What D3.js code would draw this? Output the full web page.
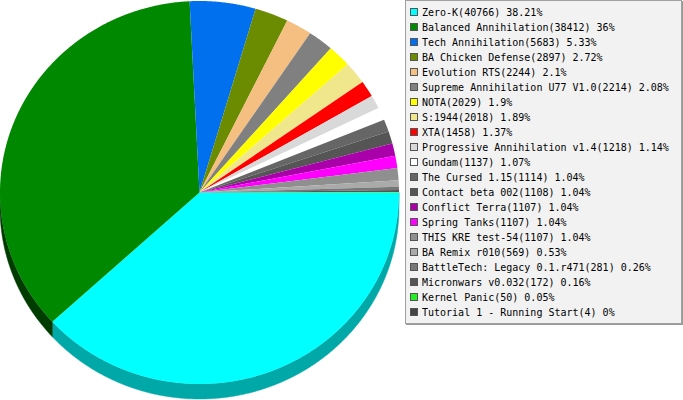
<!DOCTYPE html>
<html><head><meta charset="utf-8">
<script src="https://cdn.jsdelivr.net/npm/d3@7/dist/d3.min.js"></script>
<style>body{margin:0;background:#fff}svg{display:block}</style>
</head><body>
<svg id="c" width="683" height="400"></svg>
<script>
const names = ["Zero-K","Balanced Annihilation","Tech Annihilation","BA Chicken Defense","Evolution RTS","Supreme Annihilation U77 V1.0","NOTA","S:1944","XTA","Progressive Annihilation v1.4","Gundam","The Cursed 1.15","Contact beta 002","Conflict Terra","Spring Tanks","THIS KRE test-54","BA Remix r010","BattleTech: Legacy 0.1.r471","Micronwars v0.032","Kernel Panic","Tutorial 1 - Running Start"];
const counts = [40766,38412,5683,2897,2244,2214,2029,2018,1458,1218,1137,1114,1108,1107,1107,1107,569,281,172,50,4];
const percents = ["38.21","36","5.33","2.72","2.1","2.08","1.9","1.89","1.37","1.14","1.07","1.04","1.04","1.04","1.04","1.04","0.53","0.26","0.16","0.05","0"];
const colors = ["#00ffff","#008800","#0070ee","#6b8b00","#f4bf80","#808080","#ffff00","#f0e68c","#ff0000","#d9d9d9","#ffffff","#666666","#555555","#aa00aa","#ff00ff","#8f8f8f","#aaaaaa","#777777","#555555","#22ee22","#444444"];
const sideColors = ["#00a8a8","#003c00","#004a9e","#475c00","#a27f55","#555555","#aaaa00","#a09960","#aa0000","#909090","#aaaaaa","#444444","#383838","#710071","#aa00aa","#5f5f5f","#717171","#4f4f4f","#383838","#169e16","#2d2d2d"];

const svg = d3.select("#c");
const cx = 199.5, cy = 192.5, rx = 199.5, ry = 191.5, depth = 15;

const pie = d3.pie().sort(null).value(d => d).startAngle(Math.PI/2).endAngle(Math.PI/2 + 2*Math.PI);
const arcs = pie(counts);

const pt = (a, dy=0) => [cx + rx*Math.sin(a), cy - ry*Math.cos(a) + dy];
function arcPts(a0, a1, dy=0){
  const n = Math.max(2, Math.ceil(Math.abs(a1-a0)/0.005));
  return d3.range(n+1).map(i => pt(a0 + (a1-a0)*i/n, dy));
}
const line = d3.line();

// sides (extrusion) for the front half
const g = svg.append("g");
arcs.forEach((d,i) => {
  const a0 = Math.max(d.startAngle, Math.PI/2), a1 = Math.min(d.endAngle, 3*Math.PI/2);
  if (a1 <= a0) return;
  const pts = arcPts(a0, a1).concat(arcPts(a1, a0, depth));
  g.append("path").attr("d", line(pts) + "Z").attr("fill", sideColors[i]).attr("stroke", sideColors[i]).attr("stroke-width", 0.5);
});
// top faces
arcs.forEach((d,i) => {
  const pts = [[cx,cy]].concat(arcPts(d.startAngle, d.endAngle));
  g.append("path").attr("d", line(pts) + "Z").attr("fill", colors[i]);
});

// legend
const lx = 405, ly = 0, lw = 277, lh = 324;
svg.append("rect").attr("x", lx+1.5).attr("y", ly+1.5).attr("width", lw-1).attr("height", lh-1).attr("fill", "none").attr("stroke", "#999");
svg.append("rect").attr("x", lx+0.5).attr("y", ly+0.5).attr("width", lw-1).attr("height", lh-1).attr("fill", "#f2f2f2").attr("stroke", "#a0a0a0");
const rowY = d3.scalePoint().domain(d3.range(names.length)).range([16, 16 + 15*(names.length-1)]);
const lg = svg.append("g");
names.forEach((n,i) => {
  const y = rowY(i);
  lg.append("rect").attr("x", 410.5).attr("y", y-7.5).attr("width", 7).attr("height", 7).attr("fill", colors[i]).attr("stroke", "#555");
  lg.append("text").attr("x", 422).attr("y", y).attr("font-family", "DejaVu Sans Mono").attr("font-size", "10px").attr("fill", "#000")
    .text(`${n}(${counts[i]}) ${percents[i]}%`);
});
</script>
</body></html>
